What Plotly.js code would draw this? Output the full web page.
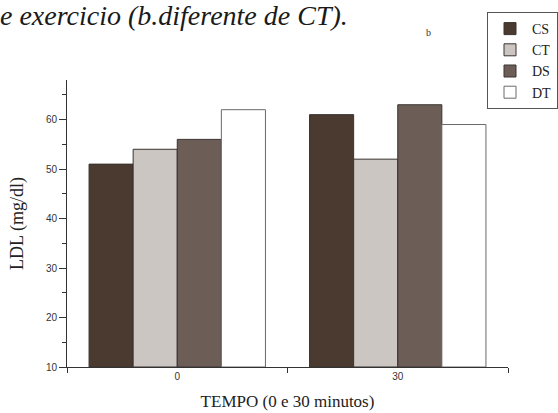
<!DOCTYPE html>
<html>
<head>
<meta charset="utf-8">
<script src="https://cdn.plot.ly/plotly-3.0.1.min.js"></script>
<style>
  html, body { margin: 0; padding: 0; background: #fff; }
  #chart { width: 558px; height: 413px; }
</style>
</head>
<body>
<div id="chart"></div>
<script>
// Data
const categories = ["0", "30"];
const seriesNames = ["CS", "CT", "DS", "DT"];
const valuesCS = [51, 61];
const valuesCT = [54, 52];
const valuesDS = [56, 63];
const valuesDT = [62, 59];
const yTickVals = [10, 20, 30, 40, 50, 60];

const seriesValues = [valuesCS, valuesCT, valuesDS, valuesDT];
const SERIF = "Liberation Serif";
const SANS = "Liberation Sans";

const styles = [
  { color: "#4a3a2f", pattern: { shape: "" } },
  { color: "#d6d2ce", pattern: { shape: ".", fgcolor: "#aaa39e", bgcolor: "#e0ddd9", size: 2, solidity: 0.4 } },
  { color: "#6e605a", pattern: { shape: ".", fgcolor: "#463833", bgcolor: "#85776f", size: 2, solidity: 0.45 } },
  { color: "#ffffff", pattern: { shape: "" } }
];

const traces = seriesNames.map((name, i) => ({
  type: "bar",
  name: name,
  x: categories,
  y: seriesValues[i].map(v => v - 10),
  base: 10,
  marker: {
    color: styles[i].color,
    pattern: styles[i].pattern,
    line: { color: i === 3 ? "#6a6a6a" : "#3a3330", width: 1 }
  },
  hoverinfo: "skip"
}));

const layout = {
  width: 558,
  height: 413,
  margin: { l: 67, r: 50, t: 80, b: 46, pad: 0, autoexpand: false },
  paper_bgcolor: "#ffffff",
  plot_bgcolor: "#ffffff",
  barmode: "group",
  bargap: 0.2,
  bargroupgap: 0,
  showlegend: true,
  font: { family: SERIF },
  title: {
    text: "e exercicio (b.diferente de CT).",
    font: { family: SERIF, size: 28, style: "italic", color: "#1a1a1a" },
    x: 0, xref: "container", xanchor: "left",
    y: 1 - 15 / 413, yref: "container", yanchor: "middle",
    pad: { t: 0, b: 0, l: 0, r: 0 }
  },
  legend: {
    x: (487 - 67) / 441, xanchor: "left", xref: "paper",
    y: (367 - 12) / 287, yanchor: "top", yref: "paper",
    bgcolor: "#ffffff",
    bordercolor: "#555555",
    borderwidth: 1,
    itemwidth: 34,
    font: { family: SERIF, size: 14, color: "#222" },
    traceorder: "normal",
    itemclick: false
  },
  xaxis: {
    type: "category",
    range: [-0.5, 1.5],
    tickson: "boundaries",
    ticks: "outside",
    ticklen: 5,
    tickwidth: 1,
    tickcolor: "#333",
    showline: true,
    linecolor: "#333",
    linewidth: 1,
    showgrid: false,
    zeroline: false,
    tickfont: { family: SANS, size: 10, color: "#333" },
    title: {
      text: "TEMPO (0 e 30 minutos)",
      font: { family: SERIF, size: 17, color: "#222" },
      standoff: 14
    },
    fixedrange: true
  },
  xaxis2: {
    overlaying: "x",
    anchor: "y",
    range: [-0.5, 1.5],
    tickvals: [0.5, 1.5],
    ticks: "inside",
    ticklen: 5,
    tickwidth: 1,
    tickcolor: "#333",
    showticklabels: false,
    showline: false,
    showgrid: false,
    zeroline: false
  },
  yaxis: {
    range: [10, 68],
    tickvals: yTickVals,
    ticks: "outside",
    ticklen: 7,
    tickwidth: 1,
    tickcolor: "#333",
    minor: { dtick: 5, ticks: "outside", ticklen: 4, tickcolor: "#333", tickwidth: 1, showgrid: false },
    showline: true,
    linecolor: "#333",
    linewidth: 1,
    showgrid: false,
    zeroline: false,
    tickfont: { family: SANS, size: 10, color: "#333" },
    title: {
      text: "LDL (mg/dl)",
      font: { family: SERIF, size: 18, color: "#222" },
      standoff: 17
    },
    fixedrange: true
  },
  annotations: [
    {
      text: "b",
      xref: "paper", yref: "paper",
      x: (428 - 67) / 441, y: (367 - 32) / 287,
      xanchor: "center", yanchor: "middle",
      showarrow: false,
      font: { family: SERIF, size: 10, color: "#333" }
    }
  ]
};

Plotly.newPlot("chart", traces, layout, { displayModeBar: false, staticPlot: true });
</script>
</body>
</html>
